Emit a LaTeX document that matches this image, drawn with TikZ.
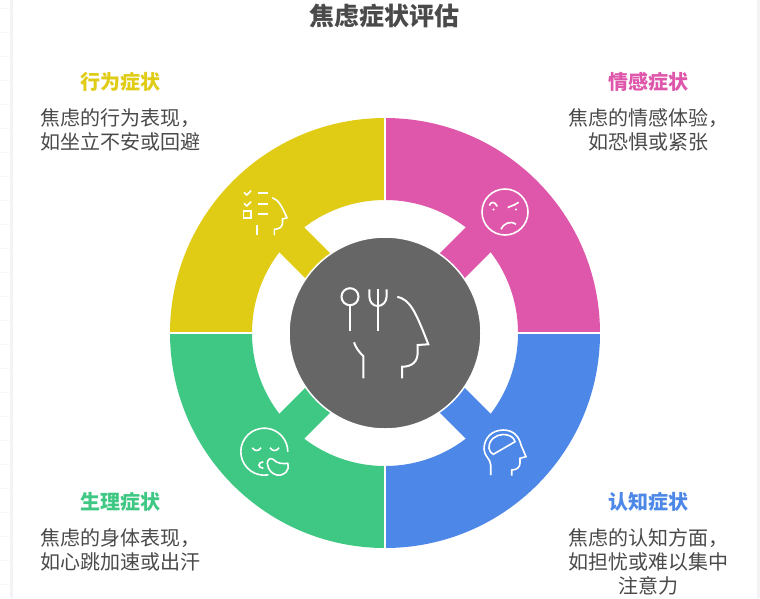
\documentclass[tikz,border=0pt]{standalone}
\usepackage{fontspec}
\setmainfont{Noto Sans CJK SC}
\definecolor{behavecol}{HTML}{E0CB15}
\definecolor{emotecol}{HTML}{DF57AB}
\definecolor{cogcol}{HTML}{4D88E8}
\definecolor{bodycol}{HTML}{3EC883}
\definecolor{hubcol}{HTML}{666666}
\definecolor{inkcol}{HTML}{4A4A4A}
\definecolor{edgecol}{HTML}{F3F3F5}
\tikzset{
	headtext/.style={font=\fontsize{20}{24}\selectfont\bfseries,align=center},
	bodytext/.style={font=\fontsize{20}{24}\selectfont,align=center,text=inkcol},
	iconline/.style={draw=white,line width=1.6pt,fill=none},
	hubline/.style={draw=white,line width=2pt,fill=none},
}

\begin{document}
\begin{tikzpicture}[x=1pt,y=-1pt]
\useasboundingbox (0,0) rectangle (760,598);

%%%%%%%%%%%%%%%%%%%%%%%%%%%%%%%%%%%%%%

\fill[white] (0,0) rectangle (760,598);
\foreach \gridy in {8,32,...,584} {
	\draw[edgecol!60,line width=0.6pt] (0,\gridy) -- (10,\gridy);
}
\fill[edgecol] (10,0) rectangle (13,598);
\fill[edgecol] (757,0) rectangle (760,598);

%%%%%%%%%%%%%%%%%%%%%%%%%%%%%%%%%%%%%%

\begin{scope}[shift={(385,333)}]
\fill[behavecol] (180:215) arc (180:270:215) -- (270:133) arc (270:180:133) -- cycle;
\fill[behavecol] (-47.6,-72.4) -- (-72.4,-47.6) -- (-111.4,-86.6) -- (-86.6,-111.4) -- cycle;

\fill[emotecol] (270:215) arc (270:360:215) -- (0:133) arc (360:270:133) -- cycle;
\fill[emotecol] (47.6,-72.4) -- (72.4,-47.6) -- (111.4,-86.6) -- (86.6,-111.4) -- cycle;

\fill[cogcol] (0:215) arc (0:90:215) -- (90:133) arc (90:0:133) -- cycle;
\fill[cogcol] (47.6,72.4) -- (72.4,47.6) -- (111.4,86.6) -- (86.6,111.4) -- cycle;

\fill[bodycol] (90:215) arc (90:180:215) -- (180:133) arc (180:90:133) -- cycle;
\fill[bodycol] (-47.6,72.4) -- (-72.4,47.6) -- (-111.4,86.6) -- (-86.6,111.4) -- cycle;

\draw[white,line width=2pt] (-216,0) -- (216,0);
\draw[white,line width=2pt] (0,-216) -- (0,216);
\draw[white,line width=1.5pt,fill=hubcol] (0,0) circle (96);
\end{scope}

%%%%%%%%%%%%%%%%%%%%%%%%%%%%%%%%%%%%%%

% hub: spoon, fork, head
\draw[hubline] (350,296.7) circle (8.5);
\draw[hubline] (350,305.2) -- (350,331);
\draw[hubline] (369.3,289.3) -- (369.3,296) .. controls (369.3,302) and (373,306) .. (377.7,306) .. controls (382.4,306) and (386.7,302) .. (386.7,296) -- (386.7,289.3);
\draw[hubline] (377.7,289.3) -- (377.7,331);
\draw[hubline] (397.3,296.7) .. controls (410,300) and (415,310) .. (428.3,344.3) -- (417.7,345) -- (417.7,352) .. controls (417.7,362) and (412,366.7) .. (402,366.7) -- (402,378.3);
\draw[hubline] (354,342.3) .. controls (356,348) and (359,352) .. (363.3,356) -- (363.3,378.3);

% pink face
\draw[iconline] (505,212) circle (23);
\draw[iconline] (489.3,205.5) .. controls (490.5,201.5) and (495,201) .. (497.3,206.5);
\draw[iconline] (507.7,207.5) -- (514,205) -- (518.7,202.3);
\fill[white] (493.5,209.5) circle (1.2);
\fill[white] (516,209.5) circle (1.2);
\draw[iconline] (501,229.3) .. controls (503,224) and (510,220) .. (516,224.3);

% yellow head with checklist
\draw[iconline] (244,192.3) -- (246.7,195) -- (251,190.7);
\draw[iconline] (244,203.3) -- (246.7,206) -- (251,201.7);
\draw[iconline] (243.5,211) rectangle (250.7,217.7);
\draw[iconline] (257.7,192.7) -- (267.7,192.7);
\draw[iconline] (257.7,204) -- (267.7,204);
\draw[iconline] (257.7,214) -- (267.7,214);
\draw[iconline] (256.7,225) -- (256.7,235);
\draw[iconline] (272.3,197.7) .. controls (279,200) and (282,207) .. (287,217.7) -- (282.5,219) -- (282.5,223) .. controls (282.5,227) and (279,229.3) .. (274.3,229.3) -- (274.3,235);

% green face with hand
\draw[iconline] (264.3,451.7) ++(80:23.5) arc (80:360:23.5);
\draw[iconline] (252.3,447.7) .. controls (255,451.5) and (258.5,451.5) .. (261,447.7);
\draw[iconline] (270,447.7) .. controls (272.5,451.5) and (276.5,451.5) .. (279,447.7);
\draw[iconline] (263.3,461.7) .. controls (257.5,462.5) and (257.5,467.5) .. (263.3,468.3);
\draw[iconline] (267.3,463.3) .. controls (267.5,459) and (271,457) .. (274,460) .. controls (277,463.5) and (283,464) .. (287.7,463.3) .. controls (290,471) and (284,476) .. (277,475) .. controls (272,474) and (268,470) .. (267.3,463.3) -- cycle;

% blue head with brain
\draw[iconline] (490.7,475) -- (490.7,465) .. controls (490.7,459) and (484,456) .. (484,449) .. controls (484,438) and (492,430) .. (503.3,430) .. controls (513,430) and (519,436) .. (521,445) -- (526,456.7) -- (520,458.3) -- (520,463) .. controls (520,467) and (517,470) .. (511.7,470) -- (511.7,475.7);
\draw[iconline] (489,448.3) .. controls (488.5,440) and (496,434.5) .. (503,434.5) .. controls (508,434.5) and (514,436.5) .. (515,441.7) -- (493.3,454.3) .. controls (491,453.5) and (489.5,451) .. (489,448.3) -- cycle;

%%%%%%%%%%%%%%%%%%%%%%%%%%%%%%%%%%%%%%

\node[font=\fontsize{25}{30}\selectfont\bfseries,text=inkcol] (title) at (384.5,15.5) {焦虑症状评估};

\node[headtext,text=behavecol] (behavehead) at (120.5,81.5) {行为症状};
\node[bodytext] (behavetext) at (120.5,129.5) {焦虑的行为表现，\\如坐立不安或回避};

\node[headtext,text=emotecol] (emotehead) at (648.5,81.5) {情感症状};
\node[bodytext] (emotetext) at (648.5,129.5) {焦虑的情感体验，\\如恐惧或紧张};

\node[headtext,text=bodycol] (bodyhead) at (120.5,501.5) {生理症状};
\node[bodytext] (bodytext) at (120.5,549.5) {焦虑的身体表现，\\如心跳加速或出汗};

\node[headtext,text=cogcol] (coghead) at (648.5,501.5) {认知症状};
\node[bodytext] (cogtext) at (648.5,561.5) {焦虑的认知方面，\\如担忧或难以集中\\注意力};

\end{tikzpicture}
\end{document}
